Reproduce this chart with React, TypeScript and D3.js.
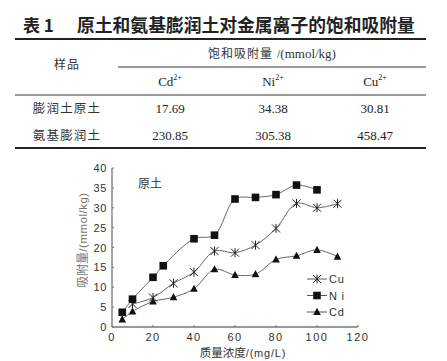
import React from "react";
import * as d3 from "d3";

// table data
const tableCols = ["Cd", "Ni", "Cu"];
const tableRows = ["膨润土原土", "氨基膨润土"];
const tableValues = [
  ["17.69", "34.38", "30.81"],
  ["230.85", "305.38", "458.47"],
];

// chart data (原土)
const cuX = [10, 20, 30, 40, 50, 60, 70, 80, 90, 100, 110];
const cuY = [5.8, 7.4, 11.0, 13.8, 19.1, 18.7, 20.6, 24.8, 31.1, 30.0, 31.0];
const niX = [5, 10, 20, 25, 40, 50, 60, 70, 80, 90, 100];
const niY = [3.7, 7.0, 12.5, 15.4, 22.2, 23.1, 32.2, 32.6, 33.3, 35.7, 34.5];
const cdX = [5, 10, 20, 30, 40, 50, 60, 70, 80, 90, 100, 110];
const cdY = [1.9, 3.9, 6.4, 7.5, 9.6, 14.5, 13.1, 13.3, 17.0, 17.9, 19.4, 17.7];
const xTicks = [0, 20, 40, 60, 80, 100, 120];
const yTicks = [0, 5, 10, 15, 20, 25, 30, 35, 40];

const cjk = "'Noto Sans CJK SC', sans-serif";
const serif = "'Liberation Serif', 'Times New Roman', serif";
const sans = "'Liberation Sans', Arial, sans-serif";

type Kind = "cu" | "ni" | "cd";

function Marker({ kind, x, y }: { kind: Kind; x: number; y: number }) {
  if (kind === "ni") {
    return <rect x={x - 3.8} y={y - 3.8} width={7.6} height={7.6} fill="#111" />;
  }
  if (kind === "cd") {
    return <path d={`M${x},${y - 4.2}L${x + 3.8},${y + 3}L${x - 3.8},${y + 3}Z`} fill="#111" />;
  }
  const r = 4;
  return (
    <path
      d={`M${x - r},${y - r}L${x + r},${y + r}M${x - r},${y + r}L${x + r},${y - r}M${x},${y - r - 0.5}L${x},${y + r + 0.5}`}
      stroke="#222"
      strokeWidth={1}
      fill="none"
    />
  );
}

export default function App() {
  const width = 447;
  const height = 361;

  const x = d3.scaleLinear().domain([0, 120]).range([112, 358]);
  const y = d3.scaleLinear().domain([0, 40]).range([327, 168]);

  const line = d3
    .line<[number, number]>()
    .x((d) => x(d[0]))
    .y((d) => y(d[1]))
    .curve(d3.curveCatmullRom.alpha(0.5));

  const series: { kind: Kind; xs: number[]; ys: number[] }[] = [
    { kind: "cd", xs: cdX, ys: cdY },
    { kind: "cu", xs: cuX, ys: cuY },
    { kind: "ni", xs: niX, ys: niY },
  ];
  const legendOrder: Kind[] = ["cu", "ni", "cd"];
  const legendNames: Record<Kind, string> = { cu: "Cu", ni: "N i", cd: "Cd" };

  const colX = [170, 273, 375];

  return (
    <svg width={width} height={height} style={{ position: "absolute", left: 0, top: 0, background: "#fff" }}>
      {/* table */}
      <text x={23} y={32} fontFamily={cjk} fontWeight="bold" fontSize={17} fill="#222">
        表 1
      </text>
      <text x={77} y={32} fontFamily={cjk} fontWeight="bold" fontSize={17.8} fill="#222">
        原土和氨基膨润土对金属离子的饱和吸附量
      </text>
      <line x1={15} x2={426} y1={39} y2={39} stroke="#222" strokeWidth={2} />
      <text x={67} y={69} textAnchor="middle" fontFamily={cjk} fontSize={12} fill="#333" letterSpacing={1}>
        样品
      </text>
      <text x={272} y={58} textAnchor="middle" fill="#333">
        <tspan fontFamily={cjk} fontSize={12} letterSpacing={1}>饱和吸附量 </tspan>
        <tspan fontFamily={serif} fontSize={13}>/(mmol/kg)</tspan>
      </text>
      <line x1={118} x2={426} y1={67} y2={67} stroke="#333" strokeWidth={1} />
      {tableCols.map((c, i) => (
        <text key={c} x={colX[i]} y={86} textAnchor="middle" fontFamily={serif} fontSize={13} fill="#222">
          {c}
          <tspan fontSize={8} dy={-6}>2+</tspan>
        </text>
      ))}
      <line x1={15} x2={426} y1={95} y2={95} stroke="#333" strokeWidth={1} />
      {tableRows.map((r, ri) => (
        <g key={r}>
          <text x={67} y={113 + ri * 27} textAnchor="middle" fontFamily={cjk} fontSize={12.5} fill="#333" letterSpacing={1.2}>
            {r}
          </text>
          {tableValues[ri].map((v, ci) => (
            <text key={ci} x={colX[ci]} y={113 + ri * 27} textAnchor="middle" fontFamily={serif} fontSize={13} fill="#222">
              {v}
            </text>
          ))}
        </g>
      ))}
      <line x1={15} x2={426} y1={148} y2={148} stroke="#222" strokeWidth={2} />

      {/* chart */}
      <g>
        <line x1={x(0)} x2={x(0)} y1={y(0)} y2={y(40)} stroke="#777" strokeWidth={1.3} />
        <line x1={x(0)} x2={x(120)} y1={y(0)} y2={y(0)} stroke="#777" strokeWidth={1.3} />
        {yTicks.map((t) => (
          <g key={t}>
            <line x1={x(0)} x2={x(0) + 2} y1={y(t)} y2={y(t)} stroke="#777" />
            <text x={x(0) - 5} y={y(t) + 4} textAnchor="end" fontFamily={sans} fontSize={11} fill="#333" letterSpacing={0.6}>
              {t}
            </text>
          </g>
        ))}
        {xTicks.map((t) => (
          <g key={t}>
            <line x1={x(t)} x2={x(t)} y1={y(0)} y2={y(0) - 2} stroke="#777" />
            <text x={x(t)} y={y(0) + 14} textAnchor="middle" fontFamily={sans} fontSize={11} fill="#333" letterSpacing={1.5}>
              {t}
            </text>
          </g>
        ))}
        <text x={243} y={357} textAnchor="middle" fill="#333">
          <tspan fontFamily={cjk} fontSize={11.5}>质量浓度</tspan>
          <tspan fontFamily={sans} fontSize={11} letterSpacing={0.8}>/(mg/L)</tspan>
        </text>
        <text transform="translate(87,240) rotate(-90)" textAnchor="middle" fill="#777">
          <tspan fontFamily={cjk} fontSize={12}>吸附量</tspan>
          <tspan fontFamily={sans} fontSize={11.5} letterSpacing={0.5}>/(mmol/kg)</tspan>
        </text>
        <text x={138} y={188} fontFamily={cjk} fontSize={12} fill="#333">
          原土
        </text>

        {series.map((s) => (
          <path
            key={s.kind}
            d={line(s.xs.map((v, i) => [v, s.ys[i]] as [number, number])) || ""}
            fill="none"
            stroke="#666"
            strokeWidth={1}
          />
        ))}
        {series.map((s) =>
          s.xs.map((v, i) => <Marker key={s.kind + i} kind={s.kind} x={x(v)} y={y(s.ys[i])} />)
        )}

        {legendOrder.map((k, i) => {
          const ly = 279 + i * 16.5;
          return (
            <g key={k}>
              <line x1={307} x2={327} y1={ly} y2={ly} stroke="#555" strokeWidth={1} />
              <Marker kind={k} x={317} y={ly} />
              <text x={329} y={ly + 4} fontFamily={sans} fontSize={11} fill="#333" letterSpacing={0.8}>
                {legendNames[k]}
              </text>
            </g>
          );
        })}
      </g>
    </svg>
  );
}
